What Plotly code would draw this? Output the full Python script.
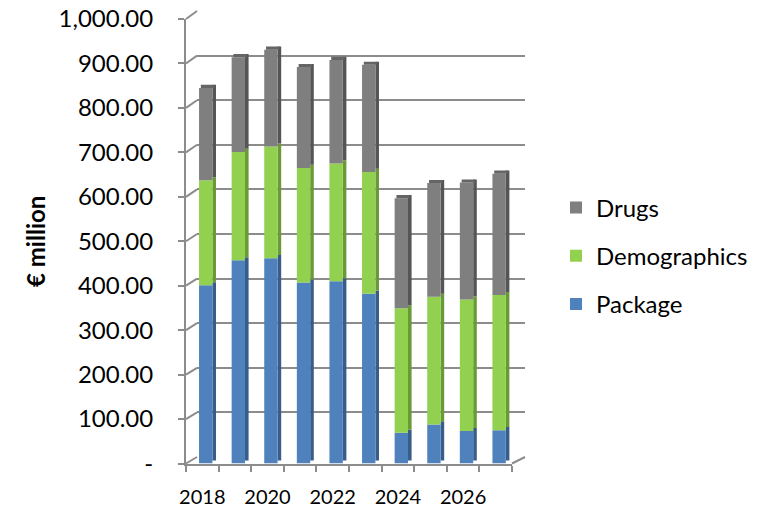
import plotly.graph_objects as go
import numpy as np

# ---- data ----
years = [2018, 2019, 2020, 2021, 2022, 2023, 2024, 2025, 2026, 2027]
package = [401, 457, 462, 407, 410, 382, 69, 88, 73, 75]
demographics = [236, 244, 251, 258, 265, 274, 280, 287, 296, 304]
drugs = [208, 213, 218, 227, 233, 241, 248, 256, 263, 273]
series_names = ["Package", "Demographics", "Drugs"]
y_tickvals = [0, 100, 200, 300, 400, 500, 600, 700, 800, 900, 1000]
y_ticktext = ["-", "100.00", "200.00", "300.00", "400.00", "500.00",
              "600.00", "700.00", "800.00", "900.00", "1,000.00"]
x_tickvals = [2018, 2020, 2022, 2024, 2026]
x_ticktext = ["2018", "2020", "2022", "2024", "2026"]

# ---- styling ----
W, H = 764, 511
front_colors = ["#4F81BD", "#92D050", "#7F7F7F"]
side_colors = ["#385D8A", "#6A9A36", "#555555"]
top_color = "#656565"
grid_col = "#8C8C8C"
FONT = "Lato"

def px(p):
    return p / W

def py(p):
    return 1 - p / H

# front (bars) plot area in pixels
FX0, FX1, FY0, FY1 = 186, 512, 463.5, 19
# back wall plot area in pixels
BX0, BX1, BY0, BY1 = 197, 525, 457, 11

fig = go.Figure()

# invisible trace to create the back-wall subplot (gridlines)
fig.add_trace(go.Scatter(x=[0], y=[0], xaxis="x", yaxis="y", mode="markers",
                         marker=dict(opacity=0), showlegend=False, hoverinfo="skip"))

vals = [np.array(package), np.array(demographics), np.array(drugs)]
base = np.zeros(len(years))
FW, FOFF, SW, DEPTH = 0.41, -0.10, 0.11, 7
for i, (name, v) in enumerate(zip(series_names, vals)):
    # side face (darker), shifted right and slightly up
    fig.add_trace(go.Bar(x=years, y=v, base=base + DEPTH, xaxis="x2", yaxis="y2",
                         width=SW, offset=FOFF + FW,
                         marker=dict(color=side_colors[i], line=dict(width=0)),
                         showlegend=False, hoverinfo="skip"))
    # front face
    fig.add_trace(go.Bar(x=years, y=v, base=base.copy(), xaxis="x2", yaxis="y2",
                         width=FW, offset=FOFF, name=name, legendgroup=name,
                         legendrank=3 - i,
                         marker=dict(color=front_colors[i], line=dict(width=0))))
    base = base + v

# top face of each column
fig.add_trace(go.Bar(x=years, y=[DEPTH] * len(years), base=base, xaxis="x2", yaxis="y2",
                     width=FW, offset=FOFF + SW / 2,
                     marker=dict(color=top_color, line=dict(width=0)),
                     showlegend=False, hoverinfo="skip"))

shapes = []
# diagonal connectors between front axis and back wall
for t in y_tickvals:
    yf = FY0 + (FY1 - FY0) * t / 1000
    yb = BY0 + (BY1 - BY0) * t / 1000
    shapes.append(dict(type="line", xref="paper", yref="paper",
                       x0=px(FX0), y0=py(yf), x1=px(BX0), y1=py(yb),
                       line=dict(color=grid_col, width=2)))
# right edge of floor
shapes.append(dict(type="line", xref="paper", yref="paper",
                   x0=px(FX1), y0=py(FY0), x1=px(BX1), y1=py(BY0),
                   line=dict(color=grid_col, width=2)))

fig.update_layout(
    width=W, height=H,
    margin=dict(l=0, r=0, t=0, b=0, autoexpand=False),
    paper_bgcolor="white", plot_bgcolor="rgba(0,0,0,0)",
    barmode="overlay",
    font=dict(family=FONT, size=22, color="black"),
    xaxis=dict(domain=[px(BX0), px(BX1)], range=[0, 1], visible=False,
               fixedrange=True, automargin=False),
    yaxis=dict(domain=[py(BY0), py(BY1)], range=[0, 1000], anchor="x",
               tickvals=y_tickvals, showticklabels=False, showgrid=True,
               gridcolor=grid_col, gridwidth=2, zeroline=False, ticks="",
               automargin=False),
    xaxis2=dict(domain=[px(FX0), px(FX1)], range=[2017.5, 2027.5], anchor="y2",
                tickvals=x_tickvals, ticktext=x_ticktext, ticks="",
                showline=True, linecolor=grid_col, linewidth=2, showgrid=False,
                zeroline=False, ticklabelstandoff=14, automargin=False,
                tickfont=dict(family=FONT, size=20, color="black"),
                minor=dict(tickmode="array", tickvals=[2017.5 + k for k in range(11)],
                           ticks="outside", ticklen=6, tickcolor=grid_col,
                           tickwidth=2, showgrid=False)),
    yaxis2=dict(domain=[py(FY0), py(FY1)], range=[0, 1000], anchor="x2",
                tickvals=y_tickvals, ticktext=y_ticktext, ticks="outside",
                ticklen=6, tickcolor=grid_col, tickwidth=2,
                showline=True, linecolor=grid_col, linewidth=2,
                showgrid=False, zeroline=False, ticklabelstandoff=20,
                automargin=False,
                tickfont=dict(family=FONT, size=24, color="black")),
    legend=dict(x=px(556), y=py(256), xanchor="left", yanchor="middle",
                traceorder="grouped", tracegroupgap=14,
                font=dict(family=FONT, size=24, color="black"),
                bgcolor="rgba(0,0,0,0)"),
    shapes=shapes,
    annotations=[dict(text="<b>€ million</b>", textangle=-90, xref="paper", yref="paper",
                      x=px(35), y=py(242), xanchor="center", yanchor="middle",
                      showarrow=False,
                      font=dict(family=FONT, size=24, color="black"))],
)

fig.write_html("out.html")
